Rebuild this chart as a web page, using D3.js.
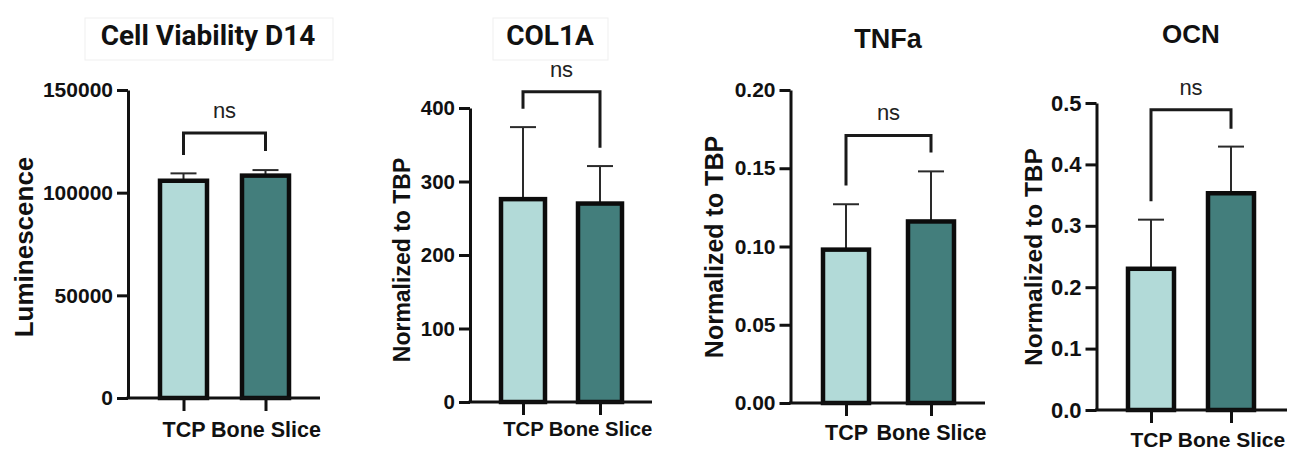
<!DOCTYPE html>
<html>
<head>
<meta charset="utf-8">
<script src="https://cdn.jsdelivr.net/npm/d3@7"></script>
<style>
  body { margin: 0; background: #fff; }
  svg { display: block; }
  .tick text { font-family: "Liberation Sans", Arial, sans-serif; font-weight: bold; fill: #111; }
</style>
</head>
<body>
<script>
//chart values
var categories = ["TCP", "Bone Slice"];
var titles = ["Cell Viability D14", "COL1A", "TNFa", "OCN"];
var yLabels = ["Luminescence", "Normalized to TBP", "Normalized to TBP", "Normalized to TBP"];
var means = [[105800, 108300], [276, 270], [0.098, 0.116], [0.23, 0.353]];
var errors = [[3600, 2700], [98, 51], [0.029, 0.032], [0.08, 0.076]];
var yTicks = [[0, 50000, 100000, 150000], [0, 100, 200, 300, 400], [0, 0.05, 0.10, 0.15, 0.20], [0, 0.1, 0.2, 0.3, 0.4, 0.5]];
var yFormats = ["d", "d", ".2f", ".1f"];
var sigLabels = ["ns", "ns", "ns", "ns"];
var bracketTop = [129000, 422, 0.171, 0.489];
var bracketLeft = [118300, 399, 0.139, 0.34];
var bracketRight = [120300, 346, 0.16, 0.458];

//colours of the two groups
var barColors = ["#b2dad8", "#437e7c"];

//panel frames (pixels)
var frames = [
    {x0: 128, x1: 320, y0: 398, yTop: 90, c1: 183.5, c2: 265.5, barW: 47, titleX: 208, titleY: 45, titleFont: "Roboto", titleSize: 28, box: [85, 18, 248, 42], labX: 33, labY: 247, labSize: 26, xlabDy: 39, tickFont: 21, xFont: 21.5},
    {x0: 470, x1: 652, y0: 402, yTop: 108, c1: 523, c2: 600, barW: 44, titleX: 550, titleY: 45, titleFont: "Roboto", titleSize: 28, box: [493, 18, 115, 42], labX: 410, labY: 260, labSize: 23, xlabDy: 35, tickFont: 20.5, xFont: 20.3},
    {x0: 790.5, x1: 985, y0: 403, yTop: 90, c1: 846, c2: 931, barW: 46, titleX: 888, titleY: 48, titleFont: "Liberation Sans", titleSize: 27, box: null, labX: 723, labY: 247, labSize: 25, xlabDy: 37, tickFont: 21, xFont: 21.5},
    {x0: 1096.5, x1: 1287, y0: 410, yTop: 103, c1: 1151, c2: 1231, barW: 46, titleX: 1191, titleY: 43, titleFont: "Liberation Sans", titleSize: 26, box: null, labX: 1042, labY: 257, labSize: 24.5, xlabDy: 37, tickFont: 22, xFont: 21}
];

var width = 1300,
    height = 467;

var svg = d3.select("body")
    .append("svg")
    .attr("width", width)
    .attr("height", height);

frames.forEach(function(f, i){
    var g = svg.append("g").attr("class", "panel");

    var y = d3.scaleLinear()
        .domain([0, d3.max(yTicks[i])])
        .range([f.y0, f.yTop]);

    var x = d3.scalePoint()
        .domain(categories)
        .range([f.c1, f.c2]);

    //title, with the faint box some of them sit in
    if (f.box){
        g.append("rect")
            .attr("x", f.box[0]).attr("y", f.box[1])
            .attr("width", f.box[2]).attr("height", f.box[3])
            .attr("fill", "none")
            .attr("stroke", "#efefef")
            .attr("stroke-width", 1);
    }
    g.append("text")
        .attr("x", f.titleX)
        .attr("y", f.titleY)
        .attr("text-anchor", "middle")
        .style("font-family", f.titleFont + ", Arial, sans-serif")
        .style("font-weight", "bold")
        .style("font-size", f.titleSize + "px")
        .attr("fill", "#111")
        .text(titles[i]);

    //bars
    var rows = categories.map(function(c, k){
        return {cat: c, mean: means[i][k], err: errors[i][k], color: barColors[k]};
    });

    //error bars (upper only) drawn first, bars cover the lower part
    var eb = g.selectAll(".err")
        .data(rows)
        .enter()
        .append("g")
        .attr("class", "err")
        .attr("stroke", "#2a2a2a")
        .attr("stroke-width", 2);
    eb.append("line")
        .attr("x1", function(d){ return x(d.cat); })
        .attr("x2", function(d){ return x(d.cat); })
        .attr("y1", function(d){ return y(d.mean); })
        .attr("y2", function(d){ return y(d.mean + d.err); });
    eb.append("line")
        .attr("x1", function(d){ return x(d.cat) - 13; })
        .attr("x2", function(d){ return x(d.cat) + 13; })
        .attr("y1", function(d){ return y(d.mean + d.err); })
        .attr("y2", function(d){ return y(d.mean + d.err); });

    g.selectAll(".bar")
        .data(rows)
        .enter()
        .append("rect")
        .attr("class", "bar")
        .attr("x", function(d){ return x(d.cat) - f.barW / 2; })
        .attr("width", f.barW)
        .attr("y", function(d){ return y(d.mean); })
        .attr("height", function(d){ return f.y0 - y(d.mean); })
        .attr("fill", function(d){ return d.color; })
        .attr("stroke", "#0c0c0c")
        .attr("stroke-width", 4.5);

    //y axis
    var yAxis = d3.axisLeft(y)
        .tickValues(yTicks[i])
        .tickFormat(d3.format(yFormats[i]))
        .tickSize(11)
        .tickSizeOuter(0)
        .tickPadding(4);
    var ya = g.append("g")
        .attr("transform", "translate(" + f.x0 + ",0)")
        .call(yAxis);
    ya.selectAll("path, line").attr("stroke", "#111").attr("stroke-width", 3);
    ya.selectAll("text").style("font-size", f.tickFont + "px");

    //x axis: baseline drawn to the panel end, ticks from the point scale
    g.append("line")
        .attr("x1", f.x0 - 1.5).attr("x2", f.x1)
        .attr("y1", f.y0).attr("y2", f.y0)
        .attr("stroke", "#111")
        .attr("stroke-width", 3);
    var xAxis = d3.axisBottom(x)
        .tickSize(13)
        .tickSizeOuter(0)
        .tickPadding(f.xlabDy - 28);
    var xa = g.append("g")
        .attr("transform", "translate(0," + f.y0 + ")")
        .call(xAxis);
    xa.select(".domain").remove();
    xa.selectAll("line").attr("stroke", "#111").attr("stroke-width", 3);
    xa.selectAll("text").style("font-size", f.xFont + "px");

    //y label
    g.append("text")
        .attr("transform", "translate(" + f.labX + "," + f.labY + ") rotate(-90)")
        .attr("text-anchor", "middle")
        .style("font-family", "Liberation Sans, Arial, sans-serif")
        .style("font-weight", "bold")
        .style("font-size", f.labSize + "px")
        .attr("fill", "#111")
        .text(yLabels[i]);

    //significance bracket
    var bl = x(categories[0]), br = x(categories[1]);
    g.append("path")
        .attr("d", d3.line()([
            [bl, y(bracketLeft[i])],
            [bl, y(bracketTop[i])],
            [br, y(bracketTop[i])],
            [br, y(bracketRight[i])]
        ]))
        .attr("fill", "none")
        .attr("stroke", "#1a1a1a")
        .attr("stroke-width", 3);
    g.append("text")
        .attr("x", (bl + br) / 2)
        .attr("y", y(bracketTop[i]) - 15)
        .attr("text-anchor", "middle")
        .style("font-family", "Liberation Sans, Arial, sans-serif")
        .style("font-size", "22px")
        .attr("fill", "#222")
        .text(sigLabels[i]);
});
</script>
</body>
</html>
